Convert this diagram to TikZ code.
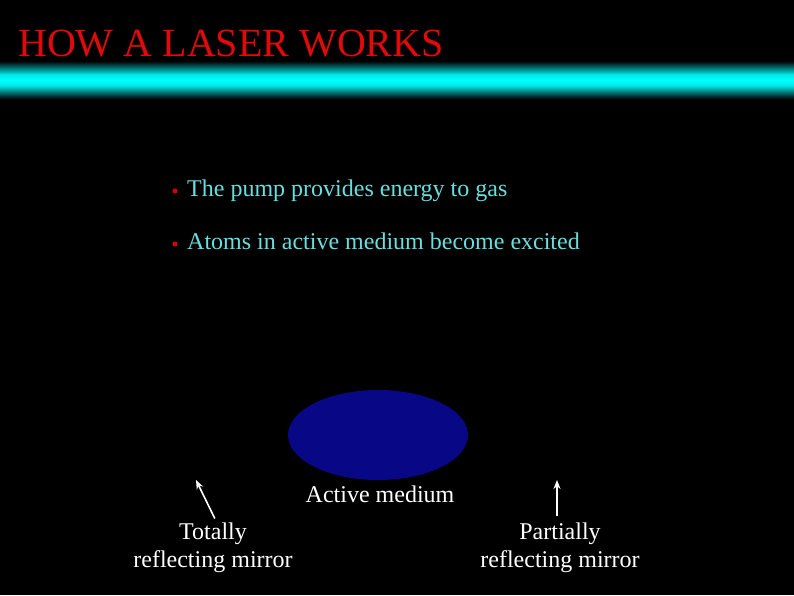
\documentclass[tikz,border=0pt]{standalone}
\usepackage{fontspec}
\setmainfont{Liberation Serif}
\usetikzlibrary{arrows.meta,shapes.geometric}
\definecolor{titlered}{RGB}{225,10,10}
\definecolor{bullettxt}{RGB}{105,222,222}
\definecolor{medblue}{RGB}{8,8,135}
\definecolor{barcyan}{RGB}{0,255,255}
\begin{document}
\begin{tikzpicture}[x=1pt,y=-1pt,
    bigtxt/.style={font=\fontsize{40}{46}\selectfont, text=titlered, inner sep=0pt},
    pttxt/.style={font=\fontsize{24}{28}\selectfont, text=bullettxt, inner sep=0pt, anchor=base west},
    dot/.style={circle, fill=red!85!black, inner sep=0pt, minimum size=5pt},
    lbl/.style={font=\fontsize{24}{28}\selectfont, text=white, inner sep=0pt, align=center},
    arw/.style={-{Stealth[length=9pt,width=7pt]}, white, line width=1.6pt}]
          \fill[black] (0,0) rectangle (794,595);
          \useasboundingbox (0,0) rectangle (794,595);

          % title and glowing bar
          \node[bigtxt, anchor=base west] (title) at (18,56) {HOW A LASER WORKS};
          \shade[top color=black, bottom color=barcyan!90!black] (0,61) rectangle (794,74.5);
          \shade[top color=barcyan!90!black, bottom color=barcyan!90!black, middle color=barcyan] (0,74) rectangle (794,86);
          \shade[top color=barcyan!90!black, bottom color=black] (0,85.5) rectangle (794,99);

          % bullets
          \node[dot] (b1) at (175,191) {};
          \node[pttxt] (pump) at (187,196) {The pump provides energy to gas};
          \node[dot] (b2) at (175,244) {};
          \node[pttxt] (atoms) at (187,249) {Atoms in active medium become excited};

          % active medium
          \node[ellipse, fill=medblue, minimum width=180pt, minimum height=90pt, inner sep=0pt] (medium) at (378,435) {};
          \node[lbl, anchor=base] (mediumlbl) at (380,502) {Active medium};

          % mirrors
          \node[lbl, anchor=north] (totlbl) at (213,523) {Totally\\reflecting mirror};
          \node[lbl, anchor=north] (parlbl) at (560,523) {Partially\\reflecting mirror};
          \coordinate (tottip) at (196,480);
          \coordinate (partip) at (557,480);
          \draw[arw, shorten <=5pt] ([xshift=4pt]totlbl.north) to (tottip);
          \draw[arw, shorten <=7pt] ([xshift=-3pt]parlbl.north) to (partip);
        \end{tikzpicture}
\end{document}
